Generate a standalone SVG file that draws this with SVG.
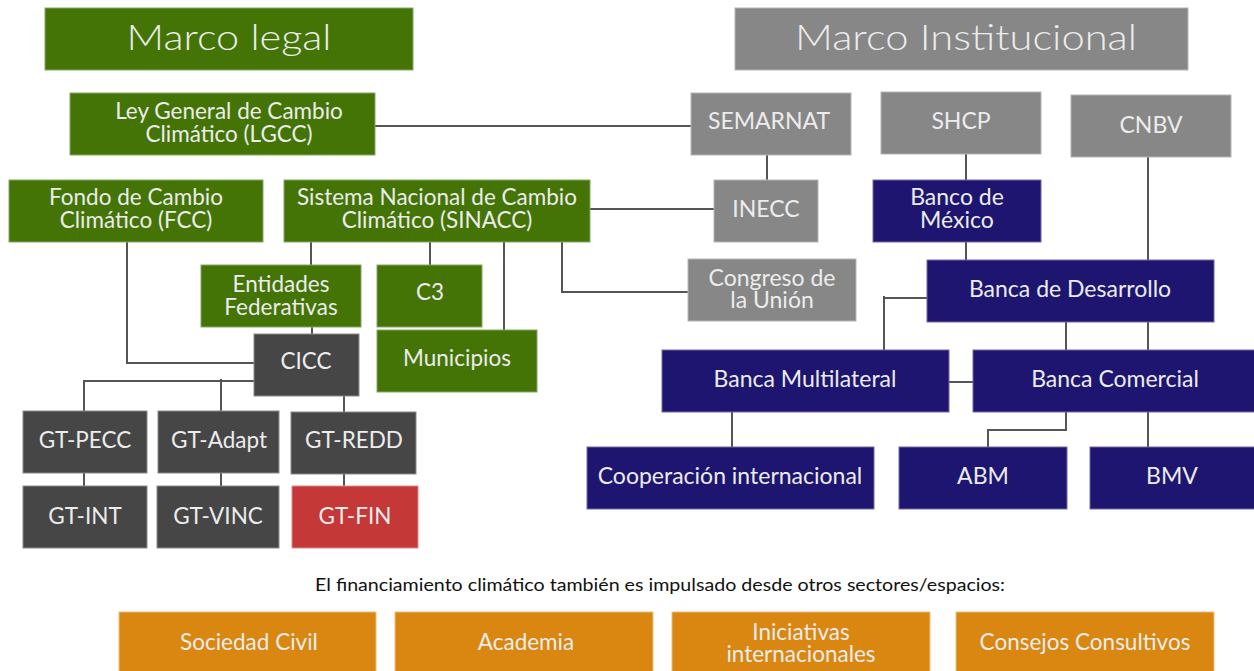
<svg xmlns="http://www.w3.org/2000/svg" width="1254" height="671" viewBox="0 0 1254 671">
<style>
.g{fill:#437405;stroke:#86a866;stroke-width:1}
.gr{fill:#878787;stroke:#b5b5b5;stroke-width:1}
.dk{fill:#464646;stroke:#8a8a8a;stroke-width:1}
.nv{fill:#1d1570;stroke:#6e6aa6;stroke-width:1}
.rd{fill:#c53838;stroke:#de8a8a;stroke-width:1}
.or{fill:#d98710;stroke:#ecc080;stroke-width:1}
text{font-family:Lato,"Noto Sans","Liberation Sans",sans-serif;fill:#ececec;text-anchor:middle;font-size:22.5px}
.r{font-size:23px}
.t{font-size:36px;font-weight:300}
.cap{fill:#111;font-size:16.5px}
.c{fill:none;stroke:#555;stroke-width:2}
</style>
<g id="connectors">
<path class="c" d="M375 126H691"/>
<path class="c" d="M767 155V180"/>
<path class="c" d="M590 209H714"/>
<path class="c" d="M562 242V292H688"/>
<path class="c" d="M127 242V363H254"/>
<path class="c" d="M311 242V265"/>
<path class="c" d="M430 242V265"/>
<path class="c" d="M504 242V330"/>
<path class="c" d="M312 327V334"/>
<path class="c" d="M254 381H84V411"/>
<path class="c" d="M221 379V411"/>
<path class="c" d="M344 396V412"/>
<path class="c" d="M84 473V486"/>
<path class="c" d="M221 473V486"/>
<path class="c" d="M344 474V486"/>
<path class="c" d="M966 154V180"/>
<path class="c" d="M966 242V261"/>
<path class="c" d="M1148 157V350"/>
<path class="c" d="M927 298H883M884 296V350"/>
<path class="c" d="M1066 322V350"/>
<path class="c" d="M949 382H973"/>
<path class="c" d="M732 412V447"/>
<path class="c" d="M1066 412V430H988V447"/>
<path class="c" d="M1148 412V447"/>
</g>
<g id="title-legal"><rect class="g" x="45" y="8" width="368" height="62"/><text class="t" x="229" y="50" textLength="205" lengthAdjust="spacingAndGlyphs">Marco legal</text></g>
<g id="title-inst"><rect class="gr" x="735" y="8" width="453" height="62"/><text class="t" x="966" y="50" textLength="342" lengthAdjust="spacingAndGlyphs">Marco Institucional</text></g>
<g id="lgcc"><rect class="g" x="70" y="93" width="305" height="62"/><text x="229" y="119">Ley General de Cambio</text><text x="229" y="142">Climático (LGCC)</text></g>
<g id="fcc"><rect class="g" x="9" y="180" width="254" height="62"/><text x="136" y="205">Fondo de Cambio</text><text x="136" y="228">Climático (FCC)</text></g>
<g id="sinacc"><rect class="g" x="284" y="180" width="306" height="62"/><text x="437" y="205">Sistema Nacional de Cambio</text><text x="437" y="228">Climático (SINACC)</text></g>
<g id="entidades"><rect class="g" x="201" y="265" width="160" height="62"/><text x="281" y="292">Entidades</text><text x="281" y="315">Federativas</text></g>
<g id="c3"><rect class="g" x="377" y="265" width="105" height="62"/><text x="430" y="300">C3</text></g>
<g id="municipios"><rect class="g" x="377" y="330" width="160" height="62"/><text x="457" y="366">Municipios</text></g>
<g id="cicc"><rect class="dk" x="254" y="334" width="105" height="62"/><text x="306" y="369">CICC</text></g>
<g id="gt-pecc"><rect class="dk" x="23" y="411" width="124" height="62"/><text x="85" y="448">GT-PECC</text></g>
<g id="gt-adapt"><rect class="dk" x="158" y="411" width="121" height="62"/><text x="219" y="448">GT-Adapt</text></g>
<g id="gt-redd"><rect class="dk" x="291" y="412" width="125" height="62"/><text x="354" y="448">GT-REDD</text></g>
<g id="gt-int"><rect class="dk" x="23" y="486" width="124" height="62"/><text x="85" y="524">GT-INT</text></g>
<g id="gt-vinc"><rect class="dk" x="157" y="486" width="122" height="62"/><text x="218" y="524">GT-VINC</text></g>
<g id="gt-fin"><rect class="rd" x="292" y="486" width="126" height="62"/><text x="355" y="524">GT-FIN</text></g>
<g id="semarnat"><rect class="gr" x="691" y="93" width="160" height="62"/><text class="r" x="769" y="129">SEMARNAT</text></g>
<g id="shcp"><rect class="gr" x="881" y="92" width="160" height="62"/><text class="r" x="961" y="129">SHCP</text></g>
<g id="cnbv"><rect class="gr" x="1071" y="95" width="160" height="62"/><text class="r" x="1151" y="133">CNBV</text></g>
<g id="inecc"><rect class="gr" x="714" y="180" width="104" height="62"/><text class="r" x="766" y="217">INECC</text></g>
<g id="banxico"><rect class="nv" x="873" y="180" width="168" height="62"/><text class="r" x="957" y="205">Banco de</text><text class="r" x="957" y="228">México</text></g>
<g id="congreso"><rect class="gr" x="688" y="259" width="168" height="62"/><text class="r" x="772" y="286">Congreso de</text><text class="r" x="772" y="308">la Unión</text></g>
<g id="banca-desarrollo"><rect class="nv" x="927" y="260" width="287" height="62"/><text class="r" x="1070" y="297">Banca de Desarrollo</text></g>
<g id="banca-multilateral"><rect class="nv" x="662" y="350" width="287" height="62"/><text class="r" x="805" y="387">Banca Multilateral</text></g>
<g id="banca-comercial"><rect class="nv" x="973" y="350" width="290" height="62"/><text class="r" x="1115" y="387">Banca Comercial</text></g>
<g id="cooperacion"><rect class="nv" x="587" y="447" width="287" height="62"/><text class="r" x="730" y="484">Cooperación internacional</text></g>
<g id="abm"><rect class="nv" x="899" y="447" width="168" height="62"/><text class="r" x="983" y="484">ABM</text></g>
<g id="bmv"><rect class="nv" x="1090" y="447" width="170" height="62"/><text class="r" x="1172" y="484">BMV</text></g>
<text class="cap" x="660" y="591" textLength="690" lengthAdjust="spacingAndGlyphs">El financiamiento climático también es impulsado desde otros sectores/espacios:</text>
<g id="sociedad-civil"><rect class="or" x="119" y="612" width="257" height="65"/><text x="249" y="650">Sociedad Civil</text></g>
<g id="academia"><rect class="or" x="395" y="612" width="258" height="65"/><text x="526" y="650">Academia</text></g>
<g id="iniciativas"><rect class="or" x="672" y="612" width="258" height="65"/><text x="801" y="640">Iniciativas</text><text x="801" y="662">internacionales</text></g>
<g id="consejos"><rect class="or" x="956" y="612" width="258" height="65"/><text x="1085" y="650">Consejos Consultivos</text></g>
</svg>
